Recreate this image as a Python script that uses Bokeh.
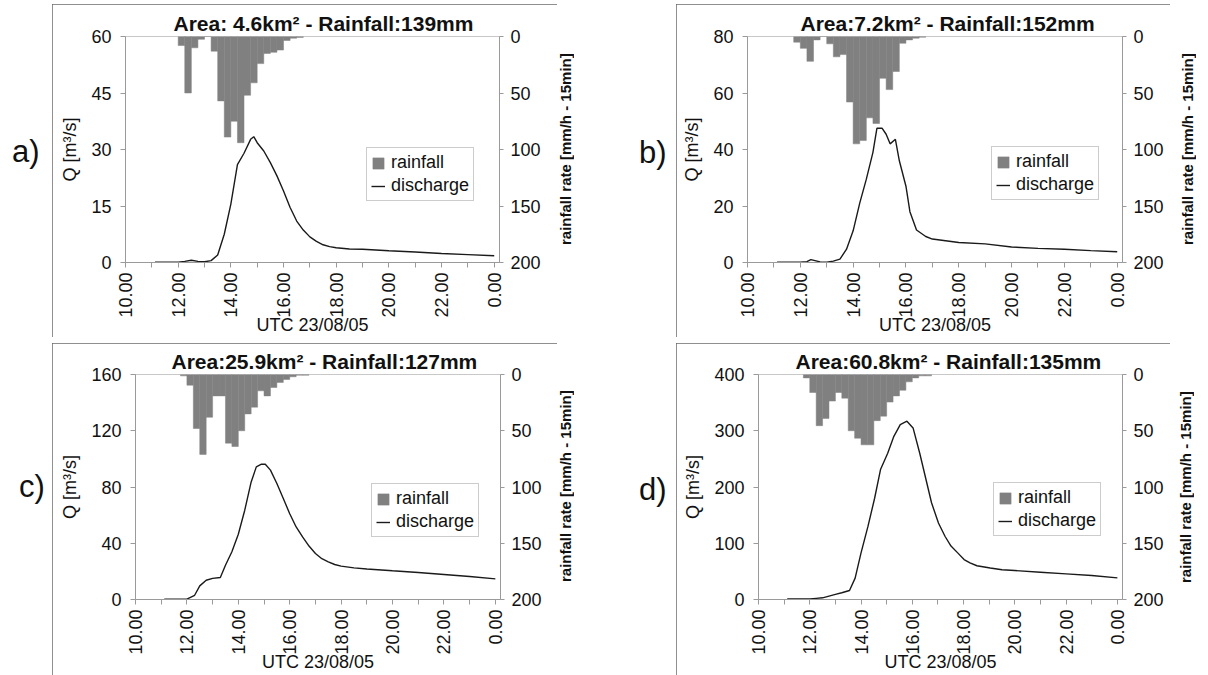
import math
from bokeh.plotting import figure
from bokeh.models import (Range1d, LinearAxis, FixedTicker, CustomJSTickFormatter,
                          Legend, LegendItem, Div, Spacer, ColumnDataSource)
from bokeh.layouts import row, column
from bokeh.embed import file_html
from bokeh.resources import INLINE

FONT = "Liberation Sans"

# ---------------- data ----------------
panel_labels = ["a)", "b)", "c)", "d)"]
titles = ["Area: 4.6km\u00b2 - Rainfall:139mm", "Area:7.2km\u00b2 - Rainfall:152mm",
          "Area:25.9km\u00b2 - Rainfall:127mm", "Area:60.8km\u00b2 - Rainfall:135mm"]
right_label = "rainfall rate [mm/h - 15min]"
q_max = [60, 80, 160, 400]
q_ticks = [[0, 15, 30, 45, 60], [0, 20, 40, 60, 80], [0, 40, 80, 120, 160],
           [0, 100, 200, 300, 400]]
rain_ticks = [0, 50, 100, 150, 200]
x_major = [10, 12, 14, 16, 18, 20, 22, 24]
x_minor = [11, 13, 15, 17, 19, 21, 23]

# rainfall: start of each 15-min interval (h) and rate (mm/h)
rain_start_a = [12.0, 12.25, 12.5, 12.75, 13.0, 13.25, 13.5, 13.75, 14.0, 14.25, 14.5,
                14.75, 15.0, 15.25, 15.5, 15.75, 16.0, 16.25, 16.5]
rain_a = [8, 50, 10, 2.5, 0, 13, 57, 89, 75, 94, 52, 41, 24, 15, 14, 12, 3.5, 1.5, 0.8]

rain_start_b = [11.75, 12.0, 12.25, 12.5, 12.75, 13.0, 13.25, 13.5, 13.75, 14.0, 14.25,
                14.5, 14.75, 15.0, 15.25, 15.5, 15.75, 16.0, 16.25, 16.5]
rain_b = [5, 10.5, 22, 3, 0, 6.5, 18, 16, 58, 95, 92, 72, 77, 37, 47, 31, 6, 3, 1.5, 0.6]

rain_start_c = [11.75, 12.0, 12.25, 12.5, 12.75, 13.0, 13.25, 13.5, 13.75, 14.0, 14.25,
                14.5, 14.75, 15.0, 15.25, 15.5, 15.75, 16.0, 16.25, 16.5]
rain_c = [1.2, 9.5, 48, 71, 38, 19, 19, 61, 64, 50, 35, 29, 14.5, 19, 11.5, 7, 4.4, 2,
          0.6, 0.6]

rain_start_d = [11.75, 12.0, 12.25, 12.5, 12.75, 13.0, 13.25, 13.5, 13.75, 14.0, 14.25,
                14.5, 14.75, 15.0, 15.25, 15.5, 15.75, 16.0, 16.25, 16.5]
rain_d = [3, 16, 45.5, 39, 23.6, 16, 21, 50, 56.6, 62.5, 62.5, 41, 37, 24.5, 19, 14,
          6.5, 3, 1.2, 1.2]

# discharge (m3/s)
time_a = [11.12, 12.0, 12.25, 12.5, 12.75, 13.0, 13.25, 13.5, 13.75, 14.0, 14.25, 14.5,
          14.75, 14.87, 15.0, 15.25, 15.5, 15.75, 16.0, 16.25, 16.5, 16.75, 17.0, 17.25,
          17.5, 17.75, 18.0, 18.5, 19.0, 20.0, 21.0, 22.0, 23.0, 24.0]
q_a = [0.1, 0.1, 0.3, 0.6, 0.3, 0.2, 0.5, 2.0, 7.5, 15.5, 26, 29, 32.7, 33.4, 31.8, 29.6,
       26.5, 23, 19, 14.6, 11, 8.6, 6.8, 5.6, 4.7, 4.2, 3.9, 3.6, 3.5, 3.1, 2.8, 2.4, 2.1,
       1.8]

time_b = [11.12, 12.0, 12.25, 12.4, 12.75, 13.0, 13.25, 13.5, 13.75, 14.0, 14.25, 14.5,
          14.75, 14.9, 15.1, 15.25, 15.4, 15.6, 15.75, 16.0, 16.15, 16.4, 16.75, 17.0,
          17.5, 18.0, 19.0, 20.0, 21.0, 22.0, 23.0, 24.0]
q_b = [0.1, 0.1, 0.3, 1.0, 0.2, 0.1, 0.5, 1.2, 4.7, 11.2, 21, 29.5, 39, 47.5, 47.5, 45.4,
       42, 43.6, 36, 27, 18, 11.5, 9.2, 8.3, 7.7, 7.1, 6.6, 5.5, 5.0, 4.7, 4.2, 3.8]

time_c = [11.12, 12.0, 12.3, 12.5, 12.75, 13.0, 13.3, 13.5, 13.75, 14.0, 14.25, 14.5,
          14.7, 14.9, 15.05, 15.25, 15.5, 15.75, 16.0, 16.25, 16.5, 16.75, 17.0, 17.25,
          17.5, 17.75, 18.0, 18.5, 19.0, 20.0, 21.0, 22.0, 23.0, 24.0]
q_c = [0.3, 0.3, 3, 9.7, 13.7, 15, 15.6, 24.4, 34, 46.4, 63.5, 83.6, 94.3, 96.2, 96.2, 92,
       82.5, 71.8, 61, 51.6, 44.5, 38, 32.7, 29, 26.8, 24.9, 23.7, 22.5, 21.7, 20.4, 19.2,
       17.8, 16.4, 14.7]

time_d = [11.12, 12.0, 12.25, 12.5, 12.75, 13.0, 13.25, 13.55, 13.77, 14.0, 14.27, 14.53,
          14.76, 15.04, 15.27, 15.53, 15.79, 16.03, 16.29, 16.52, 16.75, 17.02, 17.28,
          17.51, 17.79, 18.02, 18.25, 18.52, 19.04, 19.5, 20.0, 21.0, 22.0, 23.0, 24.0]
q_d = [1, 1, 2, 3, 6, 9, 12, 16, 38, 83, 130, 180, 231, 260, 289, 311, 317, 305, 260, 216,
       172, 136, 112, 95, 82, 71, 65, 60, 56, 53, 51.5, 48.5, 45.5, 42.6, 38.5]

rain_starts = [rain_start_a, rain_start_b, rain_start_c, rain_start_d]
rains = [rain_a, rain_b, rain_c, rain_d]
times = [time_a, time_b, time_c, time_d]
qs = [q_a, q_b, q_c, q_d]

# ---------------- layout geometry (px) ----------------
# figure size, borders, title offset, legend position, right label strip
geom = [
    dict(w=505, h=333, bl=73, br=58, bt=32, bb=75, toff=48, leg=(241, 61),
         rw=35, rml=0, rmt=32, rh=226),
    dict(w=494, h=333, bl=71, br=48, bt=32, bb=75, toff=53, leg=(244, 62),
         rw=36, rml=9, rmt=32, rh=226),
    dict(w=505, h=332, bl=83, br=57, bt=31, bb=76, toff=36, leg=(236, 62),
         rw=35, rml=0, rmt=31, rh=225),
    dict(w=494, h=332, bl=82, br=48, bt=31, bb=76, toff=37, leg=(235, 63),
         rw=36, rml=7, rmt=31, rh=226),
]
label_div = [
    dict(w=52, h=333, pl=12, pt=133),
    dict(w=84, h=333, pl=47, pt=134),
    dict(w=52, h=332, pl=19, pt=129),
    dict(w=84, h=332, pl=47, pt=132),
]

AXIS_COLOR = "#9a9a9a"
TEXT_COLOR = "#111111"


def make_panel(i):
    g = geom[i]
    p = figure(width=g["w"], height=g["h"], output_backend="svg", toolbar_location=None,
               x_range=Range1d(10, 24.2), y_range=Range1d(0, q_max[i]),
               min_border_left=g["bl"], min_border_right=g["br"],
               min_border_top=g["bt"], min_border_bottom=g["bb"],
               background_fill_color="white", border_fill_color="white")
    p.grid.visible = False
    p.outline_line_color = "#c8c8c8"
    p.outline_line_width = 1

    p.title.text = titles[i]
    p.title.text_font = FONT
    p.title.text_font_size = "21px"
    p.title.text_font_style = "bold"
    p.title.text_color = TEXT_COLOR
    p.title.align = "left"
    p.title.offset = g["toff"]
    p.title.standoff = 3

    p.extra_y_ranges = {"rain": Range1d(200, 0)}

    # rainfall bars hanging from the top
    src_r = ColumnDataSource(dict(left=rain_starts[i],
                                  right=[t + 0.25 for t in rain_starts[i]],
                                  bottom=rains[i]))
    rr = p.quad(left="left", right="right", top=0, bottom="bottom", source=src_r,
                y_range_name="rain", fill_color="#808080", line_color="#808080",
                line_width=0.5)
    # discharge
    src_q = ColumnDataSource(dict(t=times[i], q=qs[i]))
    lr = p.line("t", "q", source=src_q, line_color="#1a1a1a", line_width=1.4)

    # x axis
    xa = p.xaxis[0]
    xa.ticker = FixedTicker(ticks=x_major, minor_ticks=x_minor)
    xa.formatter = CustomJSTickFormatter(code="return tick >= 24 ? '0.00' : tick.toFixed(2);")
    xa.major_label_orientation = math.pi / 2
    xa.axis_label = "UTC 23/08/05"
    xa.axis_label_standoff = -6

    # left axis
    ya = p.yaxis[0]
    ya.ticker = FixedTicker(ticks=q_ticks[i])
    ya.axis_label = "Q [m\u00b3/s]"
    ya.axis_label_standoff = 8
    ya.major_label_standoff = 9

    # right axis (its title is drawn in the strip beside the figure)
    ra = LinearAxis(y_range_name="rain", ticker=FixedTicker(ticks=rain_ticks))
    p.add_layout(ra, "right")
    ra.major_label_standoff = 7

    for ax in (xa, ya, ra):
        ax.axis_line_color = AXIS_COLOR
        ax.major_tick_line_color = AXIS_COLOR
        ax.minor_tick_line_color = AXIS_COLOR
        ax.major_tick_out = 5
        ax.major_tick_in = 0
        ax.major_label_text_font = FONT
        ax.major_label_text_font_size = "18px"
        ax.major_label_text_color = TEXT_COLOR
        ax.axis_label_text_font = FONT
        ax.axis_label_text_color = TEXT_COLOR
    xa.minor_tick_out = 5
    xa.minor_tick_in = 0
    ya.minor_tick_out = 0
    ya.minor_tick_in = 0
    ra.minor_tick_out = 0
    ra.minor_tick_in = 0
    ra.major_tick_out = 4
    xa.axis_label_text_font_size = "18px"
    xa.axis_label_text_font_style = "normal"
    ya.axis_label_text_font_size = "18px"
    ya.axis_label_text_font_style = "normal"

    legend = Legend(items=[LegendItem(label="rainfall", renderers=[rr]),
                           LegendItem(label="discharge", renderers=[lr])],
                    location=g["leg"], margin=0, padding=4, spacing=2,
                    label_standoff=6, glyph_width=14, glyph_height=14,
                    label_height=20, label_text_font=FONT,
                    label_text_font_size="18px", label_text_color=TEXT_COLOR,
                    border_line_color="#999999", border_line_width=1,
                    background_fill_color="white", background_fill_alpha=1.0)
    p.add_layout(legend)

    html = ('<div style="margin-left:%dpx; margin-top:%dpx; height:%dpx; width:18px; '
            'writing-mode: vertical-rl; transform: rotate(180deg); text-align: center; '
            'line-height: 18px; white-space: nowrap; '
            'font-family: \'Liberation Sans\', Arial, sans-serif; font-size: 15px; '
            'font-weight: bold; color: #111;">%s</div>'
            % (g["rml"], g["rmt"], g["rh"], right_label))
    rdiv = Div(text=html, width=g["rw"], height=g["h"], margin=0,
               styles={"background-color": "white"})
    box = row(p, rdiv, spacing=0,
              styles={"outline": "2px solid #6a6a6a", "outline-offset": "-2px"})
    return box


def make_label(i):
    d = label_div[i]
    html = ('<div style="font-family: \'Liberation Sans\', Arial, sans-serif; '
            'font-size: 31px; line-height: 30px; color: #111; '
            'padding-left: %dpx; padding-top: %dpx;">%s</div>' % (d["pl"], d["pt"], panel_labels[i]))
    return Div(text=html, width=d["w"], height=d["h"], margin=0)


panels = [make_panel(i) for i in range(4)]
labs = [make_label(i) for i in range(4)]

top = row(labs[0], panels[0], labs[1], panels[1], spacing=0)
bottom = row(labs[2], panels[2], labs[3], panels[3], spacing=0)
layout = column(Spacer(width=1206, height=4), top, Spacer(width=1206, height=6), bottom,
                spacing=0)

open("out.html", "w").write(file_html(layout, INLINE))
